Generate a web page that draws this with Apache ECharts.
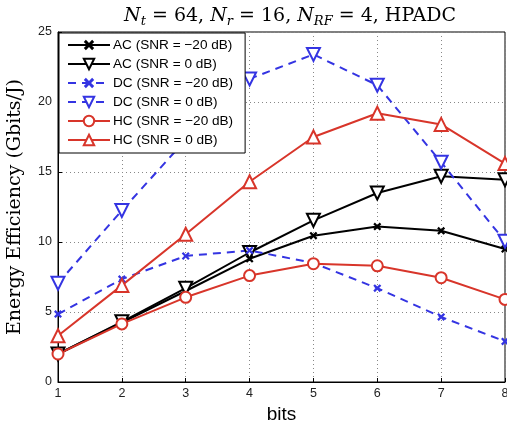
<!DOCTYPE html>
<html><head><meta charset="utf-8">
<script src="https://cdn.jsdelivr.net/npm/echarts@6/dist/echarts.min.js"></script>
<style>html,body{margin:0;padding:0;background:#fff}#c{width:507px;height:423px}</style>
</head><body><div id="c"></div>
<script>
const bits = [1, 2, 3, 4, 5, 6, 7, 8];
const yTicks = [0, 5, 10, 15, 20, 25];
const seriesNames = ['AC (SNR = \u221220 dB)', 'AC (SNR = 0 dB)', 'DC (SNR = \u221220 dB)', 'DC (SNR = 0 dB)', 'HC (SNR = \u221220 dB)', 'HC (SNR = 0 dB)'];
const acLow  = [2.0, 4.25, 6.5, 8.8, 10.45, 11.1, 10.8, 9.5];
const acHigh = [2.0, 4.3, 6.7, 9.25, 11.55, 13.5, 14.7, 14.45];
const dcLow  = [4.85, 7.35, 9.0, 9.4, 8.5, 6.7, 4.65, 2.9];
const dcHigh = [7.05, 12.25, 17.3, 21.65, 23.4, 21.2, 15.7, 10.05];
const hcLow  = [2.0, 4.15, 6.05, 7.6, 8.45, 8.3, 7.45, 5.9];
const hcHigh = [3.3, 6.9, 10.55, 14.3, 17.5, 19.2, 18.4, 15.6];

const BLACK = '#000000', BLUE = '#3434e2', RED = '#d8352a';
const XSYM = 'path://M0,2L2,0L5,3L8,0L10,2L7,5L10,8L8,10L5,7L2,10L0,8L3,5Z';
const pairs = v => bits.map((b, i) => [b, v[i]]);

function mk(name, data, color, dashed, symbol, size, rot) {
  return {
    name, type: 'line', data: pairs(data),
    symbol, symbolSize: size, symbolRotate: rot || 0,
    lineStyle: { color, width: 2, type: dashed ? [8, 6] : 'solid' },
    itemStyle: { color, borderColor: color, borderWidth: symbol === XSYM ? 0 : 1.8 },
    emphasis: { disabled: true }, animation: false, clip: false
  };
}

const SERIF = 'DejaVu Serif';
const chart = echarts.init(document.getElementById('c'), null, { renderer: 'canvas' });
chart.setOption({
  animation: false,
  backgroundColor: '#fff',
  title: {
    left: 285, textAlign: 'center', top: 0,
    text: '{i|N}{s|t}{n| = 64, }{i|N}{s|r}{n| = 16, }{i|N}{s|RF}{n| = 4, HPADC}',
    textStyle: {
      fontWeight: 'normal',
      rich: {
        i: { fontFamily: SERIF, fontStyle: 'italic', fontWeight: 'normal', fontSize: 19, color: '#000', lineHeight: 23, verticalAlign: 'middle' },
        n: { fontFamily: SERIF, fontWeight: 'normal', fontSize: 19, color: '#000', lineHeight: 23, verticalAlign: 'middle' },
        s: { fontFamily: SERIF, fontStyle: 'italic', fontWeight: 'normal', fontSize: 13, color: '#000', lineHeight: 12, verticalAlign: 'bottom' }
      }
    }
  },
  grid: { left: 58, right: 2, top: 32, bottom: 41, show: true, borderColor: '#000', borderWidth: 1, containLabel: false, outerBoundsMode: 'none' },
  legend: {
    orient: 'vertical', left: 59, top: 33,
    data: seriesNames,
    itemWidth: 42, itemHeight: 13, itemGap: 5,
    padding: [5, 12, 6, 8],
    backgroundColor: '#fff', borderColor: '#000', borderWidth: 1, borderRadius: 0,
    textStyle: { fontFamily: 'Liberation Sans', fontSize: 13.6, color: '#000', padding: [0, 0, 0, -2] },
    selectedMode: false
  },
  xAxis: {
    type: 'value', min: 1, max: 8, interval: 1,
    name: 'bits', nameLocation: 'middle', nameGap: 21,
    nameTextStyle: { fontFamily: 'Liberation Sans', fontSize: 19, color: '#000' },
    axisLine: { show: true, lineStyle: { color: '#000', width: 1 } },
    axisTick: { show: true, inside: true, length: 4, lineStyle: { color: '#000' } },
    axisLabel: { fontFamily: 'Liberation Sans', fontSize: 12.5, color: '#222', margin: 5 },
    splitLine: { show: true, lineStyle: { color: '#888', type: [1, 3], width: 1 } }
  },
  yAxis: {
    type: 'value', min: yTicks[0], max: yTicks[yTicks.length - 1], interval: 5,
    name: 'Energy Efficiency (Gbits/J)', nameLocation: 'middle', nameGap: 33,
    nameTextStyle: { fontFamily: SERIF, fontSize: 19, color: '#000' },
    axisLine: { show: true, lineStyle: { color: '#000', width: 1 } },
    axisTick: { show: true, inside: true, length: 4, lineStyle: { color: '#000' } },
    axisLabel: { fontFamily: 'Liberation Sans', fontSize: 12.5, color: '#222', margin: 6 },
    splitLine: { show: true, lineStyle: { color: '#888', type: [1, 3], width: 1 } }
  },
  series: [
    mk(seriesNames[0], acLow, BLACK, false, XSYM, 8),
    mk(seriesNames[1], acHigh, BLACK, false, 'emptyTriangle', 13, 180),
    mk(seriesNames[2], dcLow, BLUE, true, XSYM, 8),
    mk(seriesNames[3], dcHigh, BLUE, true, 'emptyTriangle', 13, 180),
    mk(seriesNames[4], hcLow, RED, false, 'emptyCircle', 11),
    mk(seriesNames[5], hcHigh, RED, false, 'emptyTriangle', 13)
  ]
});
</script></body></html>
